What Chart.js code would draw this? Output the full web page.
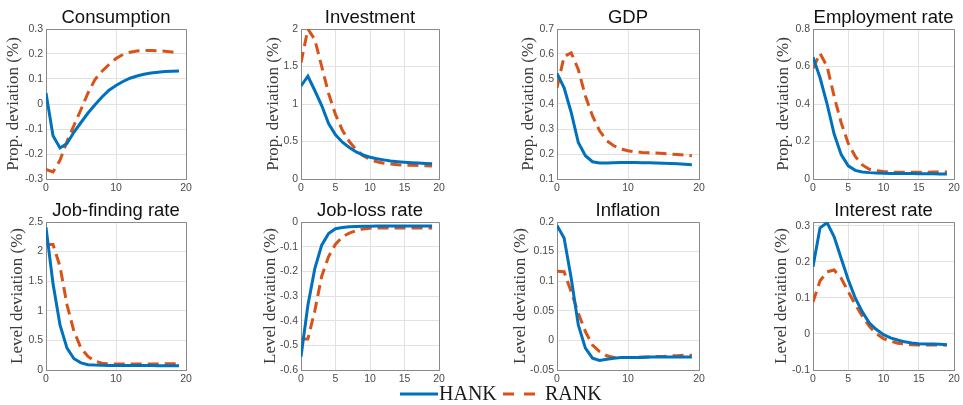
<!DOCTYPE html>
<html>
<head>
<meta charset="utf-8">
<script src="https://cdn.jsdelivr.net/npm/chart.js@4.4.1/dist/chart.umd.min.js"></script>
<style>
  html, body { margin: 0; padding: 0; background: #ffffff; }
  body { width: 963px; height: 405px; position: relative; overflow: hidden; }
  canvas { position: absolute; }
  .legend-text { position: absolute; font-family: 'Liberation Serif', serif; font-size: 20px; line-height: 20px; color: #1a1a1a; white-space: nowrap; }
  .legend-line { position: absolute; }
</style>
</head>
<body>
<script>
// Quarters after the shock
const periods = [0, 1, 2, 3, 4, 5, 6, 7, 8, 9, 10, 11, 12, 13, 14, 15, 16, 17, 18, 19];

const seriesNames = ['HANK', 'RANK'];
const panelTitles = ['Consumption', 'Investment', 'GDP', 'Employment rate',
                     'Job-finding rate', 'Job-loss rate', 'Inflation', 'Interest rate'];
const propLabel = 'Prop. deviation (%)';
const levelLabel = 'Level deviation (%)';

// Impulse responses
const consumptionHANK = [0.044, -0.127, -0.176, -0.158, -0.112, -0.074, -0.036, -0.003, 0.028, 0.055, 0.074, 0.090, 0.103, 0.112, 0.119, 0.124, 0.127, 0.130, 0.131, 0.132];
const consumptionRANK = [-0.262, -0.272, -0.225, -0.150, -0.085, -0.022, 0.044, 0.098, 0.131, 0.158, 0.182, 0.198, 0.207, 0.212, 0.214, 0.214, 0.213, 0.211, 0.208, 0.205];

const investmentHANK = [1.24, 1.37, 1.18, 0.98, 0.74, 0.59, 0.49, 0.42, 0.36, 0.32, 0.29, 0.27, 0.255, 0.24, 0.23, 0.222, 0.216, 0.212, 0.208, 0.204];
const investmentRANK = [1.55, 2.00, 1.86, 1.50, 1.14, 0.86, 0.65, 0.50, 0.39, 0.31, 0.26, 0.23, 0.21, 0.20, 0.19, 0.186, 0.182, 0.179, 0.176, 0.174];

const gdpHANK = [0.522, 0.465, 0.366, 0.246, 0.193, 0.169, 0.164, 0.164, 0.165, 0.166, 0.166, 0.166, 0.165, 0.165, 0.164, 0.163, 0.162, 0.161, 0.159, 0.157];
const gdpRANK = [0.465, 0.590, 0.605, 0.538, 0.432, 0.352, 0.293, 0.253, 0.233, 0.220, 0.213, 0.209, 0.206, 0.205, 0.204, 0.202, 0.200, 0.198, 0.196, 0.193];

const employmentHANK = [0.65, 0.54, 0.40, 0.24, 0.13, 0.07, 0.046, 0.037, 0.034, 0.032, 0.031, 0.030, 0.030, 0.029, 0.029, 0.028, 0.028, 0.028, 0.027, 0.027];
const employmentRANK = [0.59, 0.67, 0.60, 0.44, 0.30, 0.19, 0.12, 0.075, 0.052, 0.045, 0.040, 0.037, 0.036, 0.036, 0.036, 0.036, 0.036, 0.037, 0.037, 0.037];

const jobFindingHANK = [2.41, 1.46, 0.76, 0.37, 0.19, 0.12, 0.09, 0.083, 0.080, 0.078, 0.077, 0.076, 0.075, 0.075, 0.074, 0.074, 0.073, 0.073, 0.073, 0.072];
const jobFindingRANK = [2.12, 2.12, 1.75, 1.10, 0.65, 0.37, 0.23, 0.15, 0.115, 0.105, 0.100, 0.100, 0.100, 0.100, 0.100, 0.100, 0.102, 0.104, 0.106, 0.107];

const jobLossHANK = [-0.546, -0.337, -0.189, -0.094, -0.047, -0.027, -0.022, -0.019, -0.018, -0.017, -0.017, -0.016, -0.016, -0.016, -0.016, -0.016, -0.016, -0.016, -0.016, -0.016];
const jobLossRANK = [-0.474, -0.474, -0.360, -0.220, -0.140, -0.090, -0.060, -0.045, -0.035, -0.028, -0.025, -0.024, -0.024, -0.024, -0.024, -0.024, -0.024, -0.024, -0.024, -0.024];

const inflationHANK = [0.194, 0.173, 0.105, 0.026, -0.013, -0.030, -0.034, -0.032, -0.030, -0.029, -0.029, -0.029, -0.029, -0.028, -0.028, -0.028, -0.028, -0.028, -0.028, -0.028];
const inflationRANK = [0.117, 0.116, 0.082, 0.046, 0.015, -0.008, -0.019, -0.026, -0.029, -0.029, -0.029, -0.029, -0.028, -0.028, -0.027, -0.027, -0.026, -0.026, -0.025, -0.025];

const interestHANK = [0.186, 0.294, 0.308, 0.269, 0.209, 0.150, 0.099, 0.061, 0.030, 0.012, -0.002, -0.011, -0.017, -0.022, -0.025, -0.027, -0.028, -0.028, -0.029, -0.030];
const interestRANK = [0.088, 0.147, 0.172, 0.177, 0.154, 0.117, 0.081, 0.049, 0.021, 0.000, -0.013, -0.020, -0.026, -0.028, -0.030, -0.031, -0.031, -0.031, -0.031, -0.031];

// Axis ranges and tick labels
const xTicksTens = [0, 10, 20];
const xTicksFives = [0, 5, 10, 15, 20];
const consumptionRange = [-0.3, 0.3];
const consumptionTicks = [-0.3, -0.2, -0.1, 0, 0.1, 0.2, 0.3];
const investmentRange = [0, 2];
const investmentTicks = [0, 0.5, 1, 1.5, 2];
const gdpRange = [0.1, 0.7];
const gdpTicks = [0.1, 0.2, 0.3, 0.4, 0.5, 0.6, 0.7];
const employmentRange = [0, 0.8];
const employmentTicks = [0, 0.2, 0.4, 0.6, 0.8];
const jobFindingRange = [0, 2.5];
const jobFindingTicks = [0, 0.5, 1, 1.5, 2, 2.5];
const jobLossRange = [-0.6, 0];
const jobLossTicks = [-0.6, -0.5, -0.4, -0.3, -0.2, -0.1, 0];
const inflationRange = [-0.05, 0.2];
const inflationTicks = [-0.05, 0, 0.05, 0.1, 0.15, 0.2];
const interestRange = [-0.1, 0.31];
const interestTicks = [-0.1, 0, 0.1, 0.2, 0.3];

// Styling
const HANK_COLOR = '#0072BD';
const RANK_COLOR = '#D95319';
const GRID_COLOR = '#e2e2e2';
const BOX_COLOR = '#8a8a8a';
const TICK_COLOR = '#4a4a4a';
const TITLE_BLOCK = 29;     // height reserved for the panel title
const X_AXIS_H = 22;        // height of the x tick strip
const RIGHT_PAD = 14;
const Y_TITLE_SIZE = 17;

// Plot-area boxes for the 2x4 grid (left, right, top, bottom, y-title centre)
const frames = [
  { left: 46,  right: 186, top: 29,  bottom: 179, labelX: 13 },
  { left: 301, right: 439, top: 29,  bottom: 179, labelX: 273 },
  { left: 557, right: 699, top: 29,  bottom: 179, labelX: 528 },
  { left: 813, right: 954, top: 29,  bottom: 179, labelX: 783 },
  { left: 46,  right: 186, top: 222, bottom: 370, labelX: 17 },
  { left: 301, right: 439, top: 222, bottom: 370, labelX: 270 },
  { left: 557, right: 699, top: 222, bottom: 370, labelX: 520 },
  { left: 813, right: 954, top: 222, bottom: 370, labelX: 781 }
];

const panels = [
  { yLabel: propLabel,  hank: consumptionHANK, rank: consumptionRANK, range: consumptionRange, yTicks: consumptionTicks, xTicks: xTicksTens },
  { yLabel: propLabel,  hank: investmentHANK,  rank: investmentRANK,  range: investmentRange,  yTicks: investmentTicks,  xTicks: xTicksFives },
  { yLabel: propLabel,  hank: gdpHANK,         rank: gdpRANK,         range: gdpRange,         yTicks: gdpTicks,         xTicks: xTicksTens },
  { yLabel: propLabel,  hank: employmentHANK,  rank: employmentRANK,  range: employmentRange,  yTicks: employmentTicks,  xTicks: xTicksFives },
  { yLabel: levelLabel, hank: jobFindingHANK,  rank: jobFindingRANK,  range: jobFindingRange,  yTicks: jobFindingTicks,  xTicks: xTicksTens },
  { yLabel: levelLabel, hank: jobLossHANK,     rank: jobLossRANK,     range: jobLossRange,     yTicks: jobLossTicks,     xTicks: xTicksFives },
  { yLabel: levelLabel, hank: inflationHANK,   rank: inflationRANK,   range: inflationRange,   yTicks: inflationTicks,   xTicks: xTicksTens },
  { yLabel: levelLabel, hank: interestHANK,    rank: interestRANK,    range: interestRange,    yTicks: interestTicks,    xTicks: xTicksFives }
];

Chart.defaults.font.family = "'Liberation Sans', Arial, sans-serif";
Chart.defaults.animation = false;

const fmt = v => String(parseFloat(Number(v).toFixed(4)));

// Closes the axes box on the top and right sides
const boxPlugin = {
  id: 'axesBox',
  beforeDatasetsDraw(chart) {
    const { ctx, chartArea: a } = chart;
    ctx.save();
    ctx.strokeStyle = BOX_COLOR;
    ctx.lineWidth = 1;
    ctx.beginPath();
    const top = Math.round(a.top) + 0.5;
    const right = Math.round(a.right) + 0.5;
    ctx.moveTo(Math.round(a.left), top);
    ctx.lineTo(right, top);
    ctx.lineTo(right, Math.round(a.bottom) + 1);
    ctx.stroke();
    ctx.restore();
  }
};

function toPoints(values) {
  return periods.map((t, i) => ({ x: t, y: values[i] }));
}

panels.forEach((p, idx) => {
  const f = frames[idx];
  const canvasLeft = Math.round(f.labelX - Y_TITLE_SIZE * 0.6);
  const canvasTop = f.top - TITLE_BLOCK;
  const width = f.right - canvasLeft + RIGHT_PAD;
  const height = (f.bottom - f.top) + TITLE_BLOCK + X_AXIS_H;
  const yAxisWidth = f.left - canvasLeft;

  const canvas = document.createElement('canvas');
  canvas.width = width;
  canvas.height = height;
  canvas.style.left = canvasLeft + 'px';
  canvas.style.top = canvasTop + 'px';
  canvas.style.width = width + 'px';
  canvas.style.height = height + 'px';
  document.body.appendChild(canvas);

  new Chart(canvas, {
    type: 'line',
    data: {
      datasets: [
        { label: seriesNames[0], data: toPoints(p.hank), borderColor: HANK_COLOR, borderWidth: 3,
          pointRadius: 0, tension: 0, fill: false },
        { label: seriesNames[1], data: toPoints(p.rank), borderColor: RANK_COLOR, borderWidth: 3,
          borderDash: [11, 6], pointRadius: 0, tension: 0, fill: false }
      ]
    },
    options: {
      responsive: false,
      devicePixelRatio: 1,
      layout: { padding: { left: 0, right: RIGHT_PAD, top: 0, bottom: 0 } },
      plugins: {
        legend: { display: false },
        tooltip: { enabled: false },
        title: {
          display: true,
          text: panelTitles[idx],
          fullSize: false,
          color: '#111111',
          font: { size: 18.5, weight: 'normal' },
          padding: { top: 6.4, bottom: 0.4 }
        }
      },
      scales: {
        x: {
          type: 'linear',
          min: 0, max: 20,
          afterBuildTicks: s => { s.ticks = p.xTicks.map(v => ({ value: v })); },
          afterFit: s => { s.height = X_AXIS_H; },
          ticks: { color: TICK_COLOR, font: { size: 10.5 }, padding: 3, maxRotation: 0, callback: fmt },
          grid: { color: GRID_COLOR, drawTicks: false },
          border: { display: true, color: BOX_COLOR, width: 1 }
        },
        y: {
          type: 'linear',
          min: p.range[0], max: p.range[1],
          afterBuildTicks: s => { s.ticks = p.yTicks.map(v => ({ value: v })); },
          afterFit: s => { s.width = yAxisWidth; },
          ticks: { color: TICK_COLOR, font: { size: 10.5 }, padding: 3, callback: fmt },
          grid: { color: GRID_COLOR, drawTicks: false },
          border: { display: true, color: BOX_COLOR, width: 1 },
          title: {
            display: true,
            text: p.yLabel,
            color: '#3a3a3a',
            font: { family: "'Liberation Serif', 'Times New Roman', serif", size: Y_TITLE_SIZE },
            padding: { top: 0, bottom: 0 }
          }
        }
      }
    },
    plugins: [boxPlugin]
  });
});

// Shared legend along the bottom
function legendLine(left, color, dash) {
  const ns = 'http://www.w3.org/2000/svg';
  const svg = document.createElementNS(ns, 'svg');
  svg.setAttribute('class', 'legend-line');
  svg.setAttribute('width', dash ? 34 : 38);
  svg.setAttribute('height', 6);
  svg.style.left = left + 'px';
  svg.style.top = '391px';
  const line = document.createElementNS(ns, 'line');
  line.setAttribute('x1', 0);
  line.setAttribute('x2', dash ? 34 : 38);
  line.setAttribute('y1', 3);
  line.setAttribute('y2', 3);
  line.setAttribute('stroke', color);
  line.setAttribute('stroke-width', 3);
  if (dash) line.setAttribute('stroke-dasharray', dash);
  svg.appendChild(line);
  document.body.appendChild(svg);
}
function legendText(left, text) {
  const span = document.createElement('span');
  span.className = 'legend-text';
  span.textContent = text;
  span.style.left = left + 'px';
  span.style.top = '383px';
  document.body.appendChild(span);
}
legendLine(400, HANK_COLOR, null);
legendText(439, seriesNames[0]);
legendLine(503, RANK_COLOR, '11 10');
legendText(545, seriesNames[1]);
</script>
</body>
</html>
